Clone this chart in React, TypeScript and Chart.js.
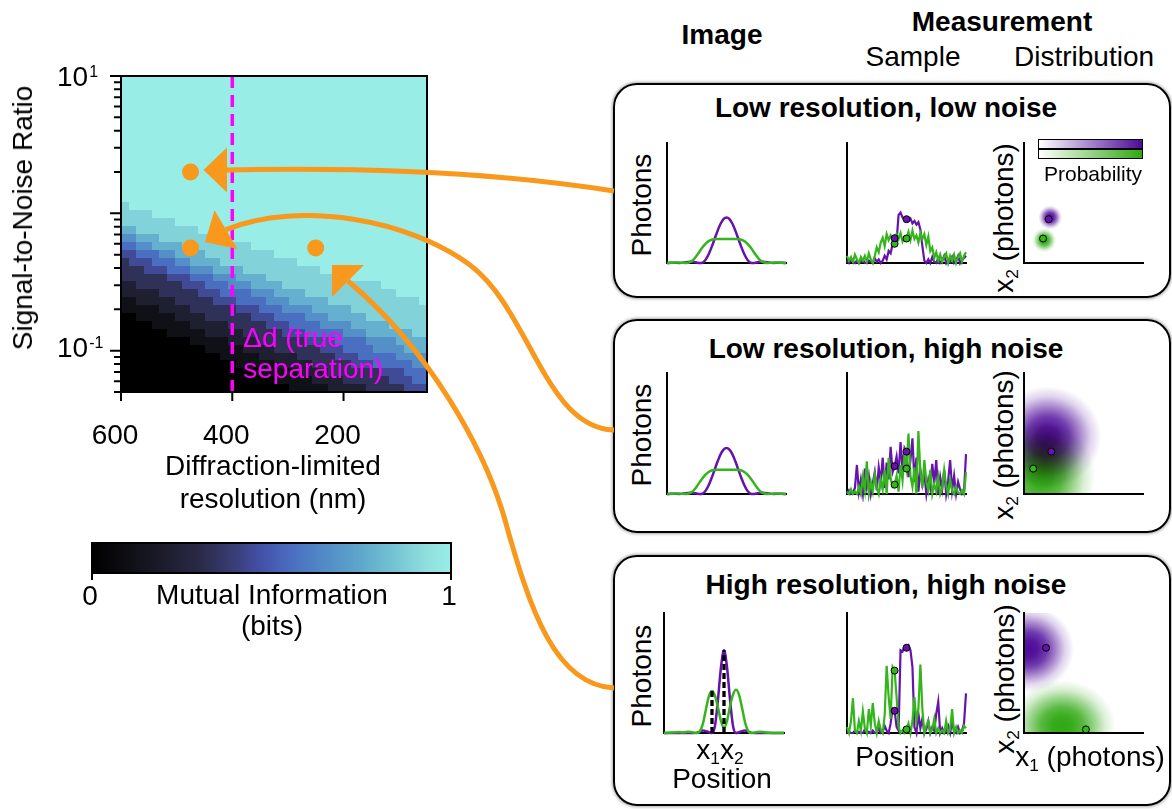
import React, { useEffect, useRef } from 'react';
import { Chart, registerables } from 'chart.js';

Chart.register(...registerables);
const FONT = '"Liberation Sans", Arial, Helvetica, sans-serif';
Chart.defaults.font.family = FONT;
Chart.defaults.color = '#000';

const PURPLE = '#6612ad';
const GREEN = '#33b51b';
const ORANGE = '#f8981d';
const MAGENTA = '#ff00ff';
const FS = 28;

// ---------------- Heatmap data ----------------
const RES_MAX = 600;
const RES_MIN = 50;
const SNR_MAX = 10;
const SNR_MIN = 0.05;
const RES_TICKS = [600, 400, 200];
const SNR_MAJOR = [10, 1, 0.1];
const SNR_MINOR = [0.05, 0.06, 0.07, 0.08, 0.09, 0.2, 0.3, 0.4, 0.5, 0.6, 0.7, 0.8, 0.9, 2, 3, 4, 5, 6, 7, 8, 9];
const SNR_LABEL_VALUES = [10, 0.1];
const SNR_LABEL_EXP = ['1', '-1'];
const MI_MAX_LEVEL = 9;
// mutual information per cell (0..9 => 0..1 bits), rows from high SNR (top) to low SNR, columns from 600 nm to 50 nm
const MI_ROWS = [
  '9999999999999999999999999999999999999999',
  '9999999999999999999999999999999999999999',
  '9999999999999999999999999999999999999999',
  '9999999999999999999999999999999999999999',
  '9999999999999999999999999999999999999999',
  '9999999999999999999999999999999999999999',
  '9999999999999999999999999999999999999999',
  '9999999999999999999999999999999999999999',
  '9999999999999999999999999999999999999999',
  '9999999999999999999999999999999999999999',
  '9999999999999999999999999999999999999999',
  '9999999999999999999999999999999999999999',
  '9999999999999999999999999999999999999999',
  '9999999999999999999999999999999999999999',
  '9999999999999999999999999999999999999999',
  '9999999999999999999999999999999999999999',
  '8999999999999999999999999999999999999999',
  '8888999999999999999999999999999999999999',
  '8888888999999999999999999999999999999999',
  '7788888888999999999999999999999999999999',
  '6677788888888999999999999999999999999999',
  '5566777788888888899999999999999999999999',
  '4455566777788888888899999999999999999999',
  '3444555667777888888888899999999999999999',
  '3334445556667777888888888899999999999999',
  '3333334445556667777888888888899999999999',
  '2233333344455566677778888888888888999999',
  '2222233333444555566677778888888888889999',
  '1122222333334445555666777778888888888889',
  '1111122223333334445556666777778888888888',
  '0011111222233333344455556667777788888888',
  '0000111112222233333444555566667777788888',
  '0000001111122222333334445555566677777788',
  '0000000001111122223333334444555566667777',
  '0000000000011111222233333344455556666777',
  '0000000000000111112222233333444555556666',
  '0000000000000001111122222333334445555566',
  '0000000000000000001111122223333333444555',
  '0000000000000000000011111222233333344455',
  '0000000000000000000000111112222233333444',
];
const DOT_RES = [475, 475, 250];
const DOT_SNR = [2.0, 0.56, 0.56];
const TRUE_SEP = 400;

const CMAP_POS = [0, 0.1, 0.2, 0.3, 0.4, 0.47, 0.55, 0.65, 0.75, 0.85, 0.93, 1];
const CMAP_COL = ['#000000', '#0e0e14', '#1c1c2c', '#2a2a48', '#3a3f78', '#4350a8', '#4a6cc0', '#528bc6', '#5fa8cd', '#76c6d4', '#8fdfde', '#98ede6'];
const CBAR_TICKS = [0, 1];
const CBAR_LABELS = ['0', '1'];

// ---------------- Mini panel data ----------------
const IMG_N = 41;
const SAMP_N = 61;
const X1_POS = 0.4;
const X2_POS = 0.5;
const X1_IDX = 24;
const X2_IDX = 30;

const IMG_LO_PURPLE = [0, .002, .003, .002, 0, .001, .005, .009, .011, .009, .004, 0, .004, .028, .073, .132, .2, .268, .327, .366, .38, .366, .327, .268, .2, .132, .073, .028, .004, 0, .004, .009, .011, .009, .005, .001, 0, .002, .003, .002, 0];
const IMG_LO_GREEN = [0, .001, .003, .004, .004, .002, 0, .002, .011, .031, .062, .098, .133, .162, .182, .194, .199, .201, .201, .2, .2, .2, .201, .201, .199, .194, .182, .162, .133, .098, .062, .031, .011, .002, 0, .002, .004, .004, .003, .001, 0];
const IMG_HI_PURPLE = [0, 0, 0, 0, 0, 0, 0, 0, 0, 0, 0, .003, .012, .02, .016, .006, 0, .06, .28, .55, .69, .55, .28, .06, 0, .006, .016, .02, .012, .003, 0, 0, 0, 0, 0, 0, 0, 0, 0, 0, 0];
const IMG_HI_GREEN = [0, .001, .002, .004, .006, .008, .004, .006, .01, .008, .003, 0, .015, .08, .2, .31, .35, .31, .21, .1, .04, .1, .22, .32, .36, .32, .21, .09, .018, 0, .003, .008, .01, .008, .004, .002, .001, 0, 0, 0, 0];
const DASH_X = [0.4, 0.5];
const DASH_TOP = [0.35, 0.69];

const S1_PURPLE = [0.02, 0, 0.03, 0.01, 0, 0.02, 0, 0.01, 0.03, 0, 0, 0.02, 0.01, 0, 0.04, 0.01, 0.03, 0, 0.02, 0.06, 0.03, 0.1, 0.08, 0.16, 0.207, 0.18, 0.4, 0.42, 0.38, 0.36, 0.365, 0.35, 0.37, 0.33, 0.35, 0.32, 0.34, 0.28, 0.14, 0.02, 0, 0.03, 0, 0.05, 0.01, 0, 0.04, 0, 0.02, 0.06, 0, 0.03, 0.01, 0.05, 0, 0.02, 0.06, 0, 0.03, 0.04, 0.06];
const S1_GREEN = [0.06, 0.02, 0.05, 0.01, 0.07, 0.03, 0, 0.05, 0.02, 0.06, 0.01, 0.08, 0.03, 0, 0.06, 0.13, 0.09, 0.17, 0.21, 0.14, 0.24, 0.19, 0.23, 0.2, 0.16, 0.24, 0.2, 0.25, 0.18, 0.22, 0.204, 0.26, 0.19, 0.27, 0.2, 0.23, 0.17, 0.25, 0.2, 0.24, 0.15, 0.22, 0.1, 0.13, 0.04, 0.09, 0.02, 0.07, 0.01, 0.05, 0.08, 0, 0.06, 0.02, 0.07, 0, 0.05, 0.08, 0.01, 0.06, 0.09];
const S2_PURPLE = [0, 0.03, 0, 0.01, 0.05, 0.24, 0.02, 0.12, 0, 0.21, 0.06, 0.15, 0, 0.09, 0.18, 0.03, 0.22, 0.1, 0.3, 0.05, 0.26, 0.12, 0.39, 0.18, 0.23, 0.31, 0.17, 0.43, 0.2, 0.38, 0.35, 0.14, 0.28, 0.46, 0.1, 0.3, 0.02, 0.2, 0.08, 0.17, 0, 0.12, 0.05, 0.25, 0.09, 0.28, 0, 0.14, 0.04, 0.2, 0, 0.11, 0.28, 0.03, 0.15, 0, 0.1, 0.04, 0, 0.02, 0.33];
const S2_GREEN = [0.02, 0, 0.04, 0, 0.02, 0, 0.06, 0, 0.14, 0.03, 0.27, 0, 0.1, 0.02, 0.16, 0.05, 0, 0.12, 0.04, 0.2, 0, 0.3, 0.13, 0.06, 0.077, 0.15, 0.02, 0.24, 0.11, 0.32, 0.21, 0.5, 0.15, 0.06, 0.22, 0, 0.52, 0.18, 0.05, 0.28, 0.1, 0.03, 0.2, 0, 0.08, 0.02, 0.14, 0, 0.05, 0.2, 0.07, 0, 0.12, 0.03, 0, 0.06, 0.01, 0, 0.03, 0, 0.18];
const S3_PURPLE = [0, 0.01, 0, 0, 0.02, 0, 0.01, 0, 0, 0.03, 0, 0.01, 0, 0.02, 0, 0, 0.04, 0, 0.01, 0.06, 0.02, 0, 0.08, 0.2, 0.185, 0.05, 0.02, 0.69, 0.68, 0.72, 0.71, 0.73, 0.69, 0.55, 0.05, 0, 0.16, 0.04, 0.12, 0, 0.03, 0.1, 0, 0.05, 0.02, 0.16, 0.26, 0, 0.04, 0, 0.02, 0.06, 0, 0.1, 0.01, 0, 0.05, 0, 0.02, 0.08, 0.33];
const S3_GREEN = [0.05, 0, 0.1, 0.29, 0.02, 0, 0.1, 0.02, 0.18, 0.04, 0, 0.2, 0.06, 0.25, 0.08, 0, 0.1, 0.03, 0, 0.15, 0.56, 0.3, 0.12, 0.55, 0.52, 0.3, 0.05, 0, 0.02, 0, 0.03, 0.08, 0, 0.1, 0.3, 0.1, 0.2, 0.57, 0.2, 0, 0.06, 0.1, 0, 0.03, 0.12, 0, 0.04, 0, 0.02, 0, 0.1, 0, 0.03, 0.2, 0, 0.05, 0, 0.02, 0, 0.06, 0.04];

// blobs: [center x1, center x2, radius x1, radius x2]
const BLOB1_PURPLE = [0.22, 0.38, 0.1, 0.1];
const BLOB1_GREEN = [0.17, 0.19, 0.1, 0.1];
const BLOB2_PURPLE = [0.2, 0.47, 0.45, 0.42];
const BLOB2_GREEN = [0.15, 0.15, 0.45, 0.45];
const BLOB3_PURPLE = [0.04, 0.7, 0.38, 0.36];
const BLOB3_GREEN = [0.32, 0.06, 0.45, 0.38];
const BLOB_PURPLE_COLOR = '#4e0a98';
const BLOB_GREEN_COLOR = '#2fa812';

// ---------------- helpers ----------------
function hex(c: string) {
  return [parseInt(c.slice(1, 3), 16), parseInt(c.slice(3, 5), 16), parseInt(c.slice(5, 7), 16)];
}
function cmap(v: number) {
  for (let i = 1; i < CMAP_POS.length; i++) {
    if (v <= CMAP_POS[i]) {
      const t = (v - CMAP_POS[i - 1]) / (CMAP_POS[i] - CMAP_POS[i - 1]);
      const a = hex(CMAP_COL[i - 1]), b = hex(CMAP_COL[i]);
      return `rgb(${a.map((x, k) => Math.round(x + (b[k] - x) * t)).join(',')})`;
    }
  }
  return CMAP_COL[CMAP_COL.length - 1];
}
function mixWhite(c: string, f: number) {
  const a = hex(c);
  return `rgb(${a.map((x) => Math.round(255 + (x - 255) * f)).join(',')})`;
}

const heatPlugin = {
  id: 'heat',
  beforeDatasetsDraw(chart: any) {
    const { ctx, scales: { x, y } } = chart;
    const nR = MI_ROWS.length, nC = MI_ROWS[0].length;
    const lt = Math.log10(SNR_MAX), lb = Math.log10(SNR_MIN);
    ctx.save();
    for (let r = 0; r < nR; r++) {
      const s0 = Math.pow(10, lt - ((lt - lb) * r) / nR);
      const s1 = Math.pow(10, lt - ((lt - lb) * (r + 1)) / nR);
      const y0 = Math.round(y.getPixelForValue(s0)), y1 = Math.round(y.getPixelForValue(s1));
      for (let c = 0; c < nC; c++) {
        const d0 = RES_MAX - ((RES_MAX - RES_MIN) * c) / nC;
        const d1 = RES_MAX - ((RES_MAX - RES_MIN) * (c + 1)) / nC;
        const x0 = Math.round(x.getPixelForValue(d0)), x1 = Math.round(x.getPixelForValue(d1));
        ctx.fillStyle = cmap(Number(MI_ROWS[r][c]) / MI_MAX_LEVEL);
        ctx.fillRect(Math.min(x0, x1), Math.min(y0, y1), Math.abs(x1 - x0), Math.abs(y1 - y0));
      }
    }
    ctx.restore();
  },
  afterDatasetsDraw(chart: any) {
    const { ctx, chartArea: a, scales: { x } } = chart;
    ctx.save();
    ctx.fillStyle = MAGENTA;
    ctx.font = `${FS}px ${FONT}`;
    ctx.textAlign = 'left';
    ctx.textBaseline = 'alphabetic';
    const px = x.getPixelForValue(TRUE_SEP) + 11;
    ctx.fillText('\u0394d (true', px, a.top + 271);
    ctx.fillText('separation)', px, a.top + 302);
    ctx.restore();
  },
  afterDraw(chart: any) {
    const { ctx, chartArea: a, scales: { x, y } } = chart;
    ctx.save();
    ctx.strokeStyle = '#000';
    ctx.lineWidth = 2;
    ctx.strokeRect(a.left, a.top, a.right - a.left, a.bottom - a.top);
    ctx.beginPath();
    SNR_MAJOR.forEach((v) => {
      const py = y.getPixelForValue(v);
      ctx.moveTo(a.left - 11, py);
      ctx.lineTo(a.left, py);
    });
    SNR_MINOR.forEach((v) => {
      const py = y.getPixelForValue(v);
      ctx.moveTo(a.left - 7, py);
      ctx.lineTo(a.left, py);
    });
    RES_TICKS.forEach((v) => {
      const px = x.getPixelForValue(v);
      ctx.moveTo(px, a.bottom);
      ctx.lineTo(px, a.bottom + 9);
    });
    ctx.stroke();
    ctx.fillStyle = '#000';
    ctx.textAlign = 'left';
    ctx.textBaseline = 'alphabetic';
    SNR_LABEL_VALUES.forEach((v, i) => {
      const py = y.getPixelForValue(v) - (i === 1 ? 4 : 0);
      ctx.font = `${FS}px ${FONT}`;
      ctx.fillText('10', a.left - 64, py + 10);
      const w = ctx.measureText('10').width;
      ctx.font = `16px ${FONT}`;
      ctx.fillText(SNR_LABEL_EXP[i], a.left - 64 + w + 1, py + 1);
    });
    ctx.restore();
  },
};

const cbarPlugin = {
  id: 'cbar',
  afterDraw(chart: any) {
    const { ctx, chartArea: a, scales: { x } } = chart;
    ctx.save();
    const x0 = x.getPixelForValue(CBAR_TICKS[0]), x1 = x.getPixelForValue(CBAR_TICKS[1]);
    const g = ctx.createLinearGradient(x0, 0, x1, 0);
    CMAP_POS.forEach((p, i) => g.addColorStop(p, CMAP_COL[i]));
    ctx.fillStyle = g;
    ctx.fillRect(a.left, a.top, a.right - a.left, a.bottom - a.top);
    ctx.strokeStyle = '#000';
    ctx.lineWidth = 2;
    ctx.strokeRect(a.left, a.top, a.right - a.left, a.bottom - a.top);
    ctx.beginPath();
    CBAR_TICKS.forEach((v) => {
      const px = x.getPixelForValue(v);
      ctx.moveTo(px, a.bottom);
      ctx.lineTo(px, a.bottom + 7);
    });
    ctx.stroke();
    ctx.fillStyle = '#000';
    ctx.font = `${FS}px ${FONT}`;
    ctx.textAlign = 'center';
    ctx.textBaseline = 'alphabetic';
    CBAR_TICKS.forEach((v, i) => {
      ctx.fillText(CBAR_LABELS[i], x.getPixelForValue(v) - 2, a.bottom + 22 + 10);
    });
    ctx.restore();
  },
};

const BLOB_STOPS = [0, 0.2, 0.4, 0.6, 0.8, 1];
const BLOB_STRENGTH = [1, 0.95, 0.8, 0.5, 0.18, 0];
function blobPlugin(blobs: { p: number[]; color: string }[]) {
  return {
    id: 'blobs',
    beforeDatasetsDraw(chart: any) {
      const { ctx, chartArea: a, scales: { x, y } } = chart;
      ctx.save();
      ctx.beginPath();
      ctx.rect(a.left, a.top, a.right - a.left, a.bottom - a.top);
      ctx.clip();
      ctx.globalCompositeOperation = 'multiply';
      ctx.fillStyle = '#ffffff';
      ctx.fillRect(a.left, a.top, a.right - a.left, a.bottom - a.top);
      blobs.forEach((b) => {
        const [cx0, cy0, rx0, ry0] = b.p;
        const cx = x.getPixelForValue(cx0), cy = y.getPixelForValue(cy0);
        const rx = Math.abs(x.getPixelForValue(cx0 + rx0) - cx);
        const ry = Math.abs(y.getPixelForValue(cy0 + ry0) - cy);
        ctx.save();
        ctx.translate(cx, cy);
        ctx.scale(rx, ry);
        const g = ctx.createRadialGradient(0, 0, 0, 0, 0, 1);
        BLOB_STOPS.forEach((s, i) => g.addColorStop(s, mixWhite(b.color, BLOB_STRENGTH[i])));
        ctx.fillStyle = g;
        ctx.fillRect(-1, -1, 2, 2);
        ctx.restore();
      });
      ctx.restore();
    },
  };
}

// ---------------- chart config builders ----------------
const PAD = 8;
type Rect = [number, number, number, number];

function axisOpts(isX: boolean) {
  return {
    type: 'linear',
    min: 0,
    max: 1,
    ticks: { display: false },
    grid: { display: false },
    border: { display: true, color: '#000', width: 2 },
    afterFit: (s: any) => {
      if (isX) s.height = 0;
      else s.width = 0;
    },
  };
}
function miniConfig(datasets: any[], plugins: any[] = []) {
  return {
    type: 'scatter',
    data: { datasets },
    options: {
      animation: false,
      responsive: false,
      devicePixelRatio: 1,
      layout: { padding: PAD },
      plugins: { legend: { display: false }, tooltip: { enabled: false } },
      scales: { x: axisOpts(true), y: axisOpts(false) },
    },
    plugins,
  };
}
function lineDs(n: number, ys: number[], color: string, smooth: boolean, width = 2.5) {
  return {
    data: ys.map((v, i) => ({ x: i / (n - 1), y: v })),
    showLine: true,
    borderColor: color,
    borderWidth: width,
    pointRadius: 0,
    cubicInterpolationMode: smooth ? 'monotone' : 'default',
    tension: 0,
    clip: false,
  };
}
function dotDs(pts: { x: number; y: number }[], color: string) {
  return {
    data: pts,
    showLine: false,
    pointRadius: 3.5,
    pointBackgroundColor: color,
    pointBorderColor: '#000',
    pointBorderWidth: 1,
    clip: false,
  };
}
function sampleDots(ys: number[]) {
  return [
    { x: X1_POS, y: ys[X1_IDX] },
    { x: X2_POS, y: ys[X2_IDX] },
  ];
}
function distDot(ys: number[]) {
  return [{ x: ys[X1_IDX], y: ys[X2_IDX] }];
}

function imageConfig(purple: number[], green: number[], dashed: boolean) {
  const ds: any[] = [];
  if (dashed) {
    DASH_X.forEach((dx, i) => {
      ds.push({
        data: [{ x: dx, y: 0 }, { x: dx, y: DASH_TOP[i] }],
        showLine: true,
        borderColor: '#000',
        borderWidth: 3.3,
        borderDash: [6, 3],
        pointRadius: 0,
        clip: false,
      });
    });
  }
  ds.push(lineDs(IMG_N, green, GREEN, true));
  ds.push(lineDs(IMG_N, purple, PURPLE, true));
  return miniConfig(ds);
}
function sampleConfig(purple: number[], green: number[]) {
  return miniConfig([
    dotDs(sampleDots(purple), PURPLE),
    dotDs(sampleDots(green), GREEN),
    lineDs(SAMP_N, green, GREEN, false, 2.2),
    lineDs(SAMP_N, purple, PURPLE, false, 2.2),
  ]);
}
function distConfig(purple: number[], green: number[], bp: number[], bg: number[]) {
  return miniConfig(
    [dotDs(distDot(purple), PURPLE), dotDs(distDot(green), GREEN)],
    [blobPlugin([{ p: bp, color: BLOB_PURPLE_COLOR }, { p: bg, color: BLOB_GREEN_COLOR }])]
  );
}

function heatConfig() {
  return {
    type: 'scatter',
    data: {
      datasets: [
        {
          data: DOT_RES.map((r, i) => ({ x: r, y: DOT_SNR[i] })),
          pointRadius: 8.5,
          pointBackgroundColor: ORANGE,
          pointBorderWidth: 0,
        },
        {
          data: [{ x: TRUE_SEP, y: SNR_MAX }, { x: TRUE_SEP, y: SNR_MIN }],
          showLine: true,
          borderColor: MAGENTA,
          borderWidth: 3.5,
          borderDash: [12, 7],
          pointRadius: 0,
        },
      ],
    },
    options: {
      animation: false,
      responsive: false,
      devicePixelRatio: 1,
      layout: { padding: { top: 36, right: 23, left: 0, bottom: 0 } },
      plugins: { legend: { display: false }, tooltip: { enabled: false } },
      scales: {
        x: {
          type: 'linear',
          min: RES_MIN,
          max: RES_MAX,
          reverse: true,
          position: 'bottom',
          afterBuildTicks: (s: any) => {
            s.ticks = RES_TICKS.map((v) => ({ value: v }));
          },
          ticks: { font: { size: FS }, color: '#000', padding: 19, labelOffset: -6, autoSkip: false, maxRotation: 0 },
          grid: { display: false },
          border: { display: false },
          afterFit: (s: any) => {
            s.height = 88;
          },
        },
        y: {
          type: 'logarithmic',
          min: SNR_MIN,
          max: SNR_MAX,
          position: 'left',
          ticks: { display: false },
          grid: { display: false },
          border: { display: false },
          afterFit: (s: any) => {
            s.width = 121;
          },
        },
      },
    },
    plugins: [heatPlugin],
  };
}
function cbarConfig() {
  return {
    type: 'scatter',
    data: { datasets: [] },
    options: {
      animation: false,
      responsive: false,
      devicePixelRatio: 1,
      layout: { padding: { left: 12, right: 9, top: 13, bottom: 67 } },
      plugins: { legend: { display: false }, tooltip: { enabled: false } },
      scales: {
        x: { type: 'linear', min: 0, max: 1, display: false },
        y: { type: 'linear', min: 0, max: 1, display: false },
      },
    },
    plugins: [cbarPlugin],
  };
}

// ---------------- React components ----------------
function ChartCanvas({ left, top, width, height, make }: { left: number; top: number; width: number; height: number; make: () => any }) {
  const ref = useRef<HTMLCanvasElement>(null);
  useEffect(() => {
    const ch = new Chart(ref.current as HTMLCanvasElement, make());
    return () => ch.destroy();
  }, []);
  return <canvas ref={ref} width={width} height={height} style={{ position: 'absolute', left, top, width, height }} />;
}
function Mini({ rect, make }: { rect: Rect; make: () => any }) {
  const [L, T, R, B] = rect;
  return <ChartCanvas left={L - PAD} top={T - PAD} width={R - L + 2 * PAD} height={B - T + 2 * PAD} make={make} />;
}

function Txt({ x, y, size = FS, bold = false, rot = false, color = '#000', children }: any) {
  return (
    <div
      style={{
        position: 'absolute',
        left: x,
        top: y,
        transform: `translate(-50%,-50%)${rot ? ' rotate(-90deg)' : ''}`,
        fontSize: size,
        fontWeight: bold ? 700 : 400,
        lineHeight: 1,
        whiteSpace: 'nowrap',
        color,
        fontFamily: FONT,
      }}
    >
      {children}
    </div>
  );
}
const Sub = ({ children }: any) => (
  <sub style={{ fontSize: '0.62em', verticalAlign: '-0.3em', lineHeight: 0 }}>{children}</sub>
);

const BOXES = [
  [613, 83, 1171, 298],
  [613, 319, 1171, 533],
  [613, 555, 1171, 806],
];
const COL_A: number[][] = [[667, 786], [667, 786], [664, 784]];
const COL_B = [847, 966];
const COL_C = [1024, 1143];
const ROW_Y = [[143, 263], [373, 494], [613, 733]];

const ARROW_PATHS = [
  'M614,191 Q450,165 227,170',
  'M614,430 C545,428 530,310 470,265 C410,220 300,200 226,229.6',
  'M614,688 C555,685 530,610 505,520 C485,450 430,350 348,281',
];
const ARROW_BASES = [[227, 170], [226, 229.6], [348, 281]];
const ARROW_TIPS = [[203.5, 170], [205, 242], [332, 265]];

function Arrows() {
  return (
    <svg width={1172} height={809} style={{ position: 'absolute', left: 0, top: 0, pointerEvents: 'none' }}>
      {ARROW_PATHS.map((d, i) => {
        const [bx, by] = ARROW_BASES[i];
        const [tx, ty] = ARROW_TIPS[i];
        const dx = tx - bx, dy = ty - by, len = Math.hypot(dx, dy);
        const px = (-dy / len) * 22.5, py = (dx / len) * 22.5;
        return (
          <g key={i}>
            <path d={d} fill="none" stroke={ORANGE} strokeWidth={5} />
            <polygon points={`${tx},${ty} ${bx + px},${by + py} ${bx - px},${by - py}`} fill={ORANGE} />
          </g>
        );
      })}
    </svg>
  );
}

export default function App() {
  const rect = (col: number[], row: number[]): Rect => [col[0], row[0], col[1], row[1]];
  return (
    <div style={{ position: 'absolute', left: 0, top: 0, width: 1172, height: 809, overflow: 'hidden', background: '#fff', fontFamily: FONT }}>
      <ChartCanvas left={0} top={40} width={450} height={440} make={heatConfig} />
      <ChartCanvas left={80} top={530} width={380} height={110} make={cbarConfig} />

      <Txt x={23} y={218} rot>Signal-to-Noise Ratio</Txt>
      <Txt x={273} y={466}>Diffraction-limited</Txt>
      <Txt x={273} y={499}>resolution (nm)</Txt>
      <Txt x={272} y={595}>Mutual Information</Txt>
      <Txt x={272} y={626}>(bits)</Txt>

      <Txt x={722} y={35} bold>Image</Txt>
      <Txt x={1002} y={22} bold>Measurement</Txt>
      <Txt x={913} y={57}>Sample</Txt>
      <Txt x={1084} y={57}>Distribution</Txt>

      {BOXES.map((b, i) => (
        <div
          key={i}
          style={{
            position: 'absolute',
            left: b[0],
            top: b[1],
            width: b[2] - b[0],
            height: b[3] - b[1],
            boxSizing: 'border-box',
            border: '2.5px solid #000',
            borderRadius: 24,
            boxShadow: '0 0 3px 1px rgba(0,0,0,0.35)',
          }}
        />
      ))}
      <Txt x={886} y={108} bold>Low resolution, low noise</Txt>
      <Txt x={886} y={349} bold>Low resolution, high noise</Txt>
      <Txt x={886} y={585} bold>High resolution, high noise</Txt>

      <Txt x={642} y={205} rot>Photons</Txt>
      <Txt x={642} y={435} rot>Photons</Txt>
      <Txt x={642} y={676} rot>Photons</Txt>
      <Txt x={1004} y={218} rot>x<Sub>2</Sub> (photons)</Txt>
      <Txt x={1004} y={445} rot>x<Sub>2</Sub> (photons)</Txt>
      <Txt x={1005} y={679} rot>x<Sub>2</Sub> (photons)</Txt>

      <Mini rect={rect(COL_A[0], ROW_Y[0])} make={() => imageConfig(IMG_LO_PURPLE, IMG_LO_GREEN, false)} />
      <Mini rect={rect(COL_B, ROW_Y[0])} make={() => sampleConfig(S1_PURPLE, S1_GREEN)} />
      <Mini rect={rect(COL_C, ROW_Y[0])} make={() => distConfig(S1_PURPLE, S1_GREEN, BLOB1_PURPLE, BLOB1_GREEN)} />
      <Mini rect={rect(COL_A[1], ROW_Y[1])} make={() => imageConfig(IMG_LO_PURPLE, IMG_LO_GREEN, false)} />
      <Mini rect={rect(COL_B, ROW_Y[1])} make={() => sampleConfig(S2_PURPLE, S2_GREEN)} />
      <Mini rect={rect(COL_C, ROW_Y[1])} make={() => distConfig(S2_PURPLE, S2_GREEN, BLOB2_PURPLE, BLOB2_GREEN)} />
      <Mini rect={rect(COL_A[2], ROW_Y[2])} make={() => imageConfig(IMG_HI_PURPLE, IMG_HI_GREEN, true)} />
      <Mini rect={rect(COL_B, ROW_Y[2])} make={() => sampleConfig(S3_PURPLE, S3_GREEN)} />
      <Mini rect={rect(COL_C, ROW_Y[2])} make={() => distConfig(S3_PURPLE, S3_GREEN, BLOB3_PURPLE, BLOB3_GREEN)} />

      <div style={{ position: 'absolute', left: 1038, top: 139, width: 105, height: 10, boxSizing: 'border-box', border: '1px solid #000', background: `linear-gradient(to right, #ffffff, ${BLOB_PURPLE_COLOR})` }} />
      <div style={{ position: 'absolute', left: 1038, top: 149, width: 105, height: 10, boxSizing: 'border-box', border: '1px solid #000', background: `linear-gradient(to right, #ffffff, ${BLOB_GREEN_COLOR})` }} />
      <Txt x={1093} y={173} size={21}>Probability</Txt>

      <Txt x={720} y={750}>x<Sub>1</Sub>x<Sub>2</Sub></Txt>
      <Txt x={722} y={779}>Position</Txt>
      <Txt x={905} y={757}>Position</Txt>
      <Txt x={1090} y={757}>x<Sub>1</Sub> (photons)</Txt>

      <Arrows />
    </div>
  );
}
